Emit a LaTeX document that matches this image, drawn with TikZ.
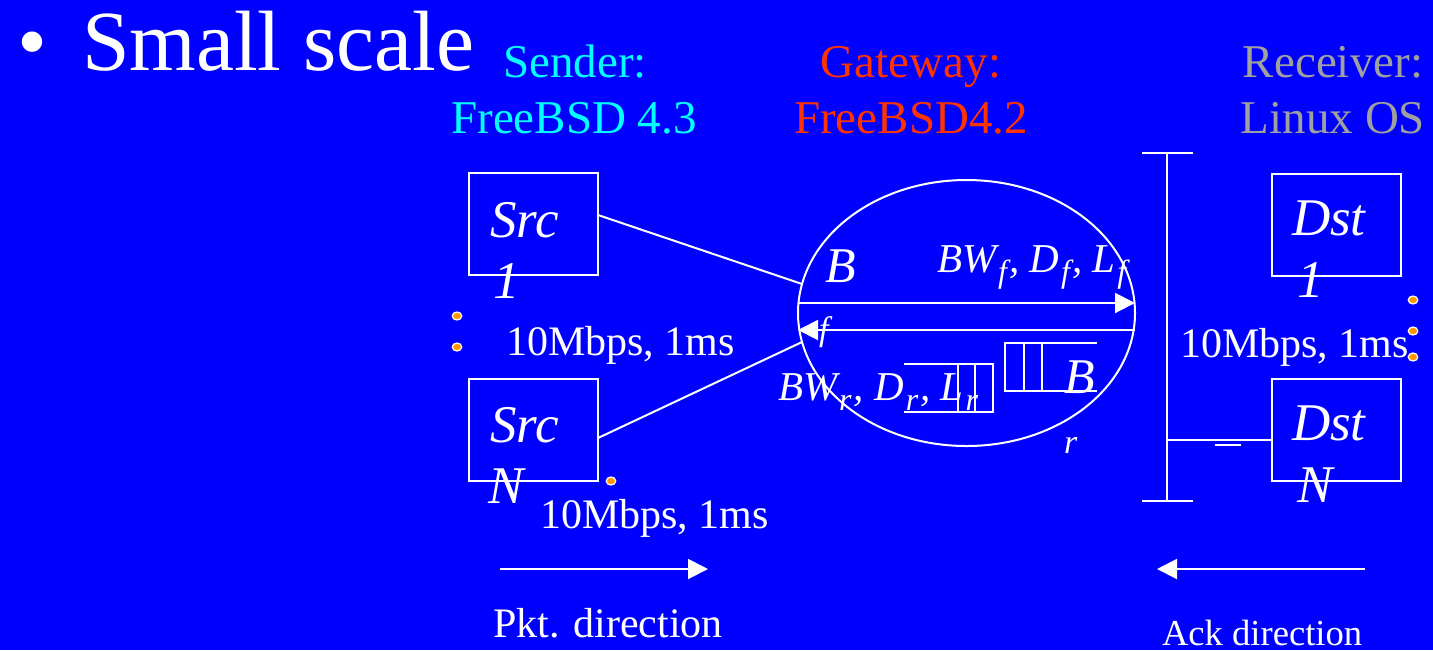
\documentclass[tikz,border=0pt]{standalone}
\usepackage{fontspec}
\setmainfont{Liberation Serif}
\usetikzlibrary{shapes.geometric,arrows.meta}
\definecolor{slideblue}{RGB}{0,0,255}
\definecolor{sendercol}{RGB}{0,255,255}
\definecolor{gatewaycol}{RGB}{255,51,0}
\definecolor{receivercol}{RGB}{160,160,160}
\definecolor{dotcol}{RGB}{255,153,0}
% Pedice abbassato, come nella slide originale.
\newcommand{\lowsub}[1]{\hspace{1pt}\raisebox{-5pt}{\fontsize{16}{18}\selectfont #1}\hspace{1pt}}

\begin{document}
\begin{tikzpicture}[x=0.5pt, y=-0.5pt,
    % Stili comuni per host, collegamenti ed etichette.
    every node/.style={text=white, inner sep=0pt, outer sep=0pt},
    link/.style={draw=white, line width=1pt},
    flow/.style={link, -{Triangle[length=10pt, width=10pt]}},
    host/.style={rectangle, draw=white, line width=1pt, minimum width=64.5pt, minimum height=51pt},
    host label/.style={font=\fontsize{26.5}{30}\selectfont\itshape, anchor=base west},
    head label/.style={font=\fontsize{23.5}{28}\selectfont, anchor=base},
    rate label/.style={font=\fontsize{21}{25}\selectfont, anchor=base west},
    param label/.style={font=\fontsize{20.5}{24}\selectfont\itshape, anchor=base west},
    dot/.style={ellipse, draw=white, line width=0.6pt, fill=dotcol, minimum width=4.8pt, minimum height=4pt}
]
\useasboundingbox[fill=slideblue] (0,0) rectangle (1433,650);

% Titolo della slide.
\node[font=\fontsize{42.8}{50}\selectfont, anchor=base west] (bullet) at (18,70) {•};
\node[font=\fontsize{42.8}{50}\selectfont, anchor=base west] (title) at (82,70) {Small scale};

% Intestazioni delle tre macchine.
\node[head label, text=sendercol]   (sender)   at (575,77)  {Sender:};
\node[head label, text=sendercol]   (senderos) at (574,133) {FreeBSD 4.3};
\node[head label, text=gatewaycol]  (gateway)  at (911,77)  {Gateway:};
\node[head label, text=gatewaycol]  (gatewayos) at (911,133) {FreeBSD4.2};
\node[head label, text=receivercol] (receiver) at (1333,77) {Receiver:};
\node[head label, text=receivercol] (receiveros) at (1333,133) {Linux OS};

% Sorgenti e destinazioni.
\node[host] (src1) at (533.5,224) {};
\node[host] (srcN) at (533.5,430) {};
\node[host] (dst1) at (1336,224.5) {};
\node[host] (dstN) at (1336,430) {};

\node[host label] (src1a) at (490,237) {Src};
\node[host label] (src1b) at (493,298) {1};
\node[host label] (srcNa) at (490,442) {Src};
\node[host label] (srcNb) at (488,503) {N};
\node[host label] (dst1a) at (1292,235) {Dst};
\node[host label] (dst1b) at (1297,297) {1};
\node[host label] (dstNa) at (1292,440) {Dst};
\node[host label] (dstNb) at (1297,502) {N};

% Puntini di sospensione.
\node[dot] (d1) at (457,316) {};
\node[dot] (d2) at (457,347) {};
\node[dot] (d3) at (611,481) {};
\node[dot] (d4) at (1413,300) {};
\node[dot] (d5) at (1413,331) {};
\node[dot] (d6) at (1413,357) {};

% Gateway con i due sensi di trasmissione.
\node[ellipse, draw=white, line width=1pt, minimum width=168.5pt, minimum height=133pt] (gw) at (966.5,313) {};

\coordinate (fwd a) at (798,303);
\coordinate (fwd b) at (1135,303);
\coordinate (rev a) at (1135,330);
\coordinate (rev b) at (798,330);
\draw[flow] (fwd a) -- (fwd b);
\draw[flow] (rev a) -- (rev b);

\draw[link] ([yshift=4.5pt]src1.east) -- (gw.170);
\draw[link] ([yshift=-4pt]srcN.east) -- (gw.190);

% Code dei pacchetti.
\draw[link] (904,364) -- (993,364) -- (993,412) -- (904,412);
\draw[link] (958,364) -- (958,412);
\draw[link] (975,364) -- (975,412);
\draw[link] (1097,343) -- (1005,343) -- (1005,391) -- (1097,391);
\draw[link] (1024,343) -- (1024,391);
\draw[link] (1042,343) -- (1042,391);

\node[font=\fontsize{25}{30}\selectfont\itshape, anchor=base west] (bf) at (825,282) {B};
\node[font=\fontsize{17}{20}\selectfont\itshape, anchor=base west] (bfsub) at (819,340) {f};
\node[param label] (fwdpar) at (937,272) {BW\lowsub{f}, D\lowsub{f}, L\lowsub{f}};
\node[param label] (revpar) at (778,400) {BW\lowsub{r}, D\lowsub{r}, L\lowsub{r}};
\node[font=\fontsize{25}{30}\selectfont\itshape, anchor=base west] (br) at (1064,393) {B};
\node[font=\fontsize{17}{20}\selectfont\itshape, anchor=base west] (brsub) at (1064,453) {r};

% Bus del ricevitore.
\coordinate (bus top) at (1167,153);
\coordinate (bus bot) at (1167,501);
\coordinate (tap) at ([yshift=-5pt]dstN.west);
\draw[link] (bus top) -- (bus bot);
\draw[link] ([xshift=-12.5pt]bus top) -- ([xshift=13pt]bus top);
\draw[link] ([xshift=-12.5pt]bus bot) -- ([xshift=13pt]bus bot);
\draw[link] (tap) -- (bus top |- tap);
\draw[link] (1215,445) -- (1241,445);

% Parametri dei collegamenti.
\node[rate label] (rate1) at (506,355)  {10Mbps, 1ms};
\node[rate label] (rate2) at (540,528)  {10Mbps, 1ms};
\node[rate label] (rate3) at (1180,357) {10Mbps, 1ms};

% Direzioni di pacchetti e ack.
\coordinate (pkt a) at (500,569);
\coordinate (pkt b) at (708,569);
\coordinate (ack a) at (1365,569);
\coordinate (ack b) at (1157,569);
\draw[flow] (pkt a) -- (pkt b);
\draw[flow] (ack a) -- (ack b);
\node[rate label] (pktdir) at (493,637) {Pkt. direction};
\node[font=\fontsize{18.3}{22}\selectfont, anchor=base west] (ackdir) at (1162,645) {Ack direction};
\end{tikzpicture}
\end{document}
